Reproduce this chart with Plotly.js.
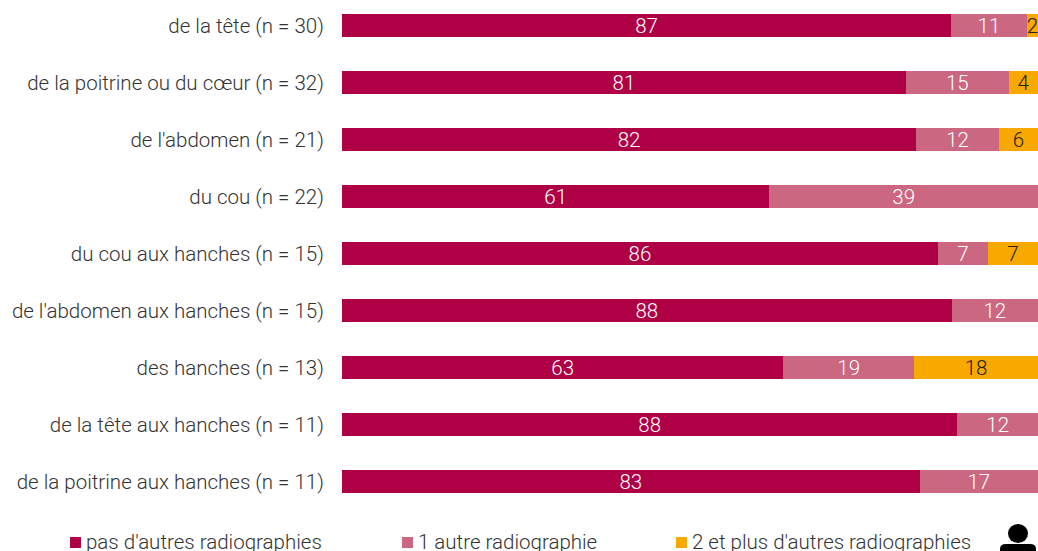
<!DOCTYPE html>
<html><head><meta charset="utf-8">
<script src="https://cdn.plot.ly/plotly-3.0.1.min.js"></script>
<style>html,body{margin:0;padding:0;background:#fff;overflow:hidden}</style>
</head><body><div id="chart" style="width:1038px;height:551px"></div>
<script>
const categories = ["de la tête (n = 30)","de la poitrine ou du cœur (n = 32)","de l'abdomen (n = 21)","du cou (n = 22)","du cou aux hanches (n = 15)","de l'abdomen aux hanches (n = 15)","des hanches (n = 13)","de la tête aux hanches (n = 11)","de la poitrine aux hanches (n = 11)"];
const none = [87.5,81,82.5,61.4,85.6,87.6,63.4,88.4,83];
const one = [10.9,14.8,11.9,38.6,7.2,12.4,18.8,11.6,17];
const twoPlus = [1.6,4.2,5.6,0,7.2,0,17.8,0,0];
const noneLabels = ["87","81","82","61","86","88","63","88","83"];
const oneLabels = ["11","15","12","39","7","12","19","12","17"];
const twoLabels = ["2","4","6","","7","","18","",""];
const seriesNames = ["pas d'autres radiographies","1 autre radiographie","2 et plus d'autres radiographies"];
const colors = ["#AF0046","#CB6781","#F8A900"];
const FONT = "Roboto, Arial, sans-serif";
const FS = 20.5, FW = 300;
function tr(x,t,c,tc){return {type:'bar',orientation:'h',y:categories,x:x,text:t,textposition:'inside',insidetextanchor:'middle',textangle:0,constraintext:'none',cliponaxis:false,
  textfont:{family:FONT,size:FS,color:tc,weight:FW},marker:{color:c,line:{width:0}},hoverinfo:'skip',showlegend:false};}
const data=[tr(none,noneLabels,colors[0],'#fff'),tr(one,oneLabels,colors[1],'#fff'),tr(twoPlus,twoLabels,colors[2],'#222')];
const legendX=[70,402,676], W=1038,H=551;
const fx=x=>(x-342)/696, fy=y=>1-y/H;
const shapes=legendX.map((x,i)=>({type:'rect',xref:'paper',yref:'paper',x0:fx(x),x1:fx(x+11),y0:fy(548),y1:fy(537),fillcolor:colors[i],line:{width:0}}));
const annotations=legendX.map((x,i)=>({xref:'paper',yref:'paper',xanchor:'left',yanchor:'middle',x:fx(x+14),y:fy(542),text:seriesNames[i],showarrow:false,font:{family:FONT,size:FS,color:'#333',weight:FW}}));
// person icon: head and shoulders
shapes.push({type:'circle',xref:'paper',yref:'paper',x0:fx(1008),x1:fx(1028),y0:fy(543),y1:fy(524),fillcolor:'#000',line:{width:0}});
const p=(x,y)=>fx(x)+','+fy(y);
shapes.push({type:'path',xref:'paper',yref:'paper',path:'M'+p(1000,552)+' L'+p(1000,549)+' Q'+p(1000,544)+' '+p(1006,544)+' L'+p(1030,544)+' Q'+p(1036,544)+' '+p(1036,549)+' L'+p(1036,552)+' Z',fillcolor:'#000',line:{width:0}});
Plotly.newPlot('chart',data,{
  width:W,height:H,barmode:'stack',bargap:0.597,showlegend:false,
  paper_bgcolor:'#fff',plot_bgcolor:'#fff',
  margin:{l:342,r:0,t:0,b:0},
  xaxis:{range:[0,100],visible:false,fixedrange:true},
  yaxis:{autorange:false,range:[9.21,-0.447],showgrid:false,zeroline:false,showline:false,ticks:'outside',ticklen:13,tickwidth:0,tickcolor:'rgba(0,0,0,0)',automargin:false,tickfont:{family:FONT,size:FS,color:'#333',weight:FW},fixedrange:true},
  shapes,annotations
},{displayModeBar:false,staticPlot:true});
</script></body></html>
